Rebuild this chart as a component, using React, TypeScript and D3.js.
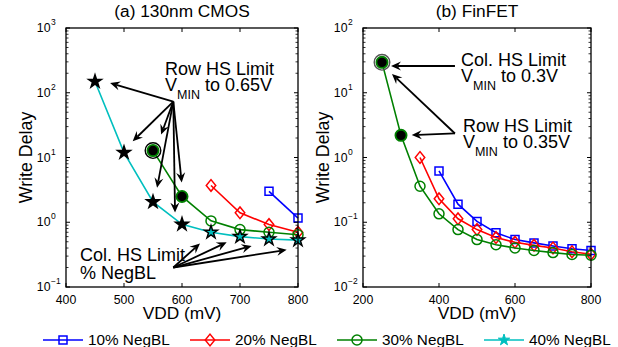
import * as d3 from "d3";

// (a) 130nm CMOS
const cmosVdd10 = [750, 800];
const cmosDelay10 = [3.0, 1.16];
const cmosVdd20 = [650, 700, 750, 800];
const cmosDelay20 = [3.7, 1.4, 0.92, 0.7];
const cmosVdd30 = [550, 600, 650, 700, 750, 800];
const cmosDelay30 = [12.8, 2.5, 1.05, 0.77, 0.7, 0.64];
const cmosVdd40 = [450, 500, 550, 600, 650, 700, 750, 800];
const cmosDelay40 = [149, 11.9, 2.06, 0.93, 0.7, 0.6, 0.55, 0.53];
const cmosRowLimited30 = [550, 600];
const cmosRinged30 = [550];
const cmosRowLimited40 = [450, 500, 550, 600];
const cmosColLimited40 = [650, 700, 750, 800];

// (b) FinFET
const finVdd10 = [400, 450, 500, 550, 600, 650, 700, 750, 800];
const finDelay10 = [0.62, 0.19, 0.103, 0.069, 0.054, 0.048, 0.043, 0.039, 0.0366];
const finVdd20 = [350, 400, 450, 500, 550, 600, 650, 700, 750, 800];
const finDelay20 = [1.0, 0.23, 0.113, 0.077, 0.058, 0.049, 0.044, 0.04, 0.035, 0.032];
const finVdd30 = [250, 300, 350, 400, 450, 500, 550, 600, 650, 700, 750, 800];
const finDelay30 = [29.5, 2.2, 0.36, 0.135, 0.077, 0.054, 0.045, 0.04, 0.0366, 0.034, 0.0317, 0.031];
const finRowLimited30 = [250, 300];
const finRinged30 = [250];

const cmosXTicks = [400, 500, 600, 700, 800];
const finXTicks = [200, 400, 600, 800];
const cmosYExp = [-1, 0, 1, 2, 3];
const finYExp = [-2, -1, 0, 1, 2];

const legendLabels = ["10% NegBL", "20% NegBL", "30% NegBL", "40% NegBL"];

// annotation arrows (data units)
const cmosRowFrom = [585, 73];
const cmosRowTipVdd = [476, 515, 564, 557, 588, 599.5];
const cmosRowTipDelay = [141, 17.8, 22.6, 3.4, 1.41, 4.1];
const cmosColFrom = [585, 0.2];
const cmosColTipVdd = [631, 677, 720, 780.5];
const cmosColTipDelay = [0.47, 0.49, 0.43, 0.375];
const finColFrom = [442, 25.9];
const finColTip = [273.7, 25.9];
const finRowFrom = [442, 2.35];
const finRowTipVdd = [276.3, 328.2];
const finRowTipDelay = [19.5, 2.22];

const FONT = "'Liberation Sans', Arial, Helvetica, sans-serif";
const BLUE = "#0000ff";
const RED = "#ff0000";
const GREEN = "#008000";
const CYAN = "#00bfbf";
const ANNOT = 18;

type Marker = "square" | "diamond" | "circle" | "star";
type Series = { vdd: number[]; delay: number[]; color: string; marker: Marker };

const MarkerShape = ({ type, color, x, y }: { type: Marker; color: string; x: number; y: number }) => {
  if (type === "circle")
    return <circle cx={x} cy={y} r={5} fill="none" stroke={color} strokeWidth={1.5} />;
  if (type === "square")
    return (
      <path
        d={d3.symbol(d3.symbolSquare, 64)() || ""}
        transform={`translate(${x},${y})`}
        fill="none"
        stroke={color}
        strokeWidth={1.5}
      />
    );
  if (type === "diamond")
    return (
      <path
        d={d3.symbol(d3.symbolSquare, 56)() || ""}
        transform={`translate(${x},${y}) scale(0.9,1.1) rotate(45)`}
        fill="none"
        stroke={color}
        strokeWidth={1.5}
      />
    );
  return (
    <path
      d={d3.symbol(d3.symbolStar, 40)() || ""}
      transform={`translate(${x},${y})`}
      fill={color}
      stroke={color}
      strokeWidth={1}
    />
  );
};

const Arrow = ({ x1, y1, x2, y2 }: { x1: number; y1: number; x2: number; y2: number }) => {
  const a = Math.atan2(y2 - y1, x2 - x1);
  const p = (dx: number, dy: number) =>
    [x2 + dx * Math.cos(a) - dy * Math.sin(a), y2 + dx * Math.sin(a) + dy * Math.cos(a)];
  const head = [p(0, 0), p(-10, 4.5), p(-6.5, 0), p(-10, -4.5)];
  const back = p(-6.5, 0);
  return (
    <g>
      <line x1={x1} y1={y1} x2={back[0]} y2={back[1]} stroke="black" strokeWidth={1.8} />
      <path d={"M" + head.map((q) => q.join(",")).join("L") + "Z"} fill="black" />
    </g>
  );
};

type PanelProps = {
  left: number;
  right: number;
  title: string;
  xDomain: [number, number];
  xTicks: number[];
  yExp: number[];
  series: Series[];
  children: (x: d3.ScaleLinear<number, number>, y: d3.ScaleLogarithmic<number, number>) => React.ReactNode;
};

const TOP = 28;
const BOTTOM = 287;

const Panel = ({ left, right, title, xDomain, xTicks, yExp, series, children }: PanelProps) => {
  const x = d3.scaleLinear().domain(xDomain).range([left, right]);
  const y = d3
    .scaleLog()
    .domain([Math.pow(10, yExp[0]), Math.pow(10, yExp[yExp.length - 1])])
    .range([BOTTOM, TOP]);
  const line = d3
    .line<[number, number]>()
    .x((d) => x(d[0]))
    .y((d) => y(d[1]));
  const minor: number[] = [];
  yExp.slice(0, -1).forEach((e) => {
    for (let k = 2; k <= 9; k++) minor.push(k * Math.pow(10, e));
  });
  const cx = (left + right) / 2;
  return (
    <g>
      <text x={cx} y={17} textAnchor="middle" fontSize={17.3}>
        {title}
      </text>
      {series.map((s, i) => (
        <g key={i}>
          <path
            d={line(s.vdd.map((v, j) => [v, s.delay[j]] as [number, number])) || ""}
            fill="none"
            stroke={s.color}
            strokeWidth={1.6}
          />
          {s.vdd.map((v, j) => (
            <MarkerShape key={j} type={s.marker} color={s.color} x={x(v)} y={y(s.delay[j])} />
          ))}
        </g>
      ))}
      {children(x, y)}
      <rect x={left} y={TOP} width={right - left} height={BOTTOM - TOP} fill="none" stroke="black" strokeWidth={1.3} />
      {xTicks.map((t) => (
        <g key={t}>
          <line x1={x(t)} x2={x(t)} y1={BOTTOM} y2={BOTTOM - 4} stroke="black" />
          <line x1={x(t)} x2={x(t)} y1={TOP} y2={TOP + 4} stroke="black" />
          <text x={x(t)} y={BOTTOM + 17} textAnchor="middle" fontSize={12.3}>
            {t}
          </text>
        </g>
      ))}
      {yExp.map((e) => {
        const py = y(Math.pow(10, e));
        return (
          <g key={e}>
            <line x1={left} x2={left + 4} y1={py} y2={py} stroke="black" />
            <line x1={right} x2={right - 4} y1={py} y2={py} stroke="black" />
            <text x={left - 15.5} y={py + 4} textAnchor="end" fontSize={12.3}>
              10
            </text>
            <text x={left - 15} y={py - 3} textAnchor="start" fontSize={8.5}>
              {e < 0 ? "\u2212" + -e : e}
            </text>
          </g>
        );
      })}
      {minor.map((m) => (
        <g key={m}>
          <line x1={left} x2={left + 2.5} y1={y(m)} y2={y(m)} stroke="black" strokeWidth={0.8} />
          <line x1={right} x2={right - 2.5} y1={y(m)} y2={y(m)} stroke="black" strokeWidth={0.8} />
        </g>
      ))}
      <text x={cx} y={319} textAnchor="middle" fontSize={17.3}>
        VDD (mV)
      </text>
      <text
        transform={`translate(${left - 34},${(TOP + BOTTOM) / 2}) rotate(-90)`}
        textAnchor="middle"
        fontSize={17.8}
      >
        Write Delay
      </text>
    </g>
  );
};

const VminLine = ({ x, y, rest }: { x: number; y: number; rest: string }) => (
  <text x={x} y={y} fontSize={ANNOT}>
    V
    <tspan dy={8} fontSize={12.5}>
      MIN
    </tspan>
    <tspan dy={-8}>{rest}</tspan>
  </text>
);

const App = () => {
  const cmosSeries: Series[] = [
    { vdd: cmosVdd10, delay: cmosDelay10, color: BLUE, marker: "square" },
    { vdd: cmosVdd20, delay: cmosDelay20, color: RED, marker: "diamond" },
    { vdd: cmosVdd30, delay: cmosDelay30, color: GREEN, marker: "circle" },
    { vdd: cmosVdd40, delay: cmosDelay40, color: CYAN, marker: "star" },
  ];
  const finSeries: Series[] = [
    { vdd: finVdd10, delay: finDelay10, color: BLUE, marker: "square" },
    { vdd: finVdd20, delay: finDelay20, color: RED, marker: "diamond" },
    { vdd: finVdd30, delay: finDelay30, color: GREEN, marker: "circle" },
  ];
  const legendColors = [BLUE, RED, GREEN, CYAN];
  const legendMarkers: Marker[] = ["square", "diamond", "circle", "star"];
  const legendX = d3.scaleBand<number>().domain([0, 1, 2, 3]).range([43, 631]);
  const bigStar = d3.symbol(d3.symbolStar, 95)() || "";
  const smallStar = d3.symbol(d3.symbolStar, 22)() || "";

  const blackDot = (px: number, py: number, ringed: boolean, ringColor: string, key: number) => (
    <g key={key}>
      {ringed && <circle cx={px} cy={py} r={7.8} fill="none" stroke={ringColor} strokeWidth={1.4} />}
      <circle cx={px} cy={py} r={5.6} fill="black" stroke={GREEN} strokeWidth={1.8} />
    </g>
  );

  return (
    <svg
      width={618}
      height={347}
      style={{ position: "absolute", left: 0, top: 0, background: "white" }}
      fontFamily={FONT}
    >
      <Panel
        left={66}
        right={298}
        title="(a) 130nm CMOS"
        xDomain={[400, 800]}
        xTicks={cmosXTicks}
        yExp={cmosYExp}
        series={cmosSeries}
      >
        {(x, y) => (
          <g>
            {cmosRowLimited30.map((v, i) =>
              blackDot(x(v), y(cmosDelay30[cmosVdd30.indexOf(v)]), cmosRinged30.includes(v), "black", i)
            )}
            {cmosRowLimited40.map((v) => (
              <path key={v} d={bigStar} transform={`translate(${x(v)},${y(cmosDelay40[cmosVdd40.indexOf(v)])})`} fill="black" />
            ))}
            {cmosColLimited40.map((v) => {
              const t = `translate(${x(v)},${y(cmosDelay40[cmosVdd40.indexOf(v)])})`;
              return (
                <g key={v}>
                  <path d={bigStar} transform={t} fill="black" />
                  <path d={smallStar} transform={t} fill={CYAN} />
                </g>
              );
            })}
            {cmosRowTipVdd.map((v, i) => (
              <Arrow key={i} x1={x(cmosRowFrom[0])} y1={y(cmosRowFrom[1])} x2={x(v)} y2={y(cmosRowTipDelay[i])} />
            ))}
            {cmosColTipVdd.map((v, i) => (
              <Arrow key={i} x1={x(cmosColFrom[0])} y1={y(cmosColFrom[1])} x2={x(v)} y2={y(cmosColTipDelay[i])} />
            ))}
            <text x={x(570.7)} y={y(185)} fontSize={ANNOT}>
              Row HS Limit
            </text>
            <VminLine x={x(570.7)} y={y(185) + 15.5} rest=" to 0.65V" />
            <text x={x(424)} y={y(0.252)} fontSize={ANNOT}>
              Col. HS Limit
            </text>
            <text x={x(424)} y={y(0.252) + 18} fontSize={ANNOT}>
              % NegBL
            </text>
          </g>
        )}
      </Panel>
      <Panel
        left={363}
        right={591}
        title="(b) FinFET"
        xDomain={[200, 800]}
        xTicks={finXTicks}
        yExp={finYExp}
        series={finSeries}
      >
        {(x, y) => (
          <g>
            {finRowLimited30.map((v, i) =>
              blackDot(x(v), y(finDelay30[finVdd30.indexOf(v)]), finRinged30.includes(v), "#555", i)
            )}
            <Arrow x1={x(finColFrom[0])} y1={y(finColFrom[1])} x2={x(finColTip[0])} y2={y(finColTip[1])} />
            {finRowTipVdd.map((v, i) => (
              <Arrow key={i} x1={x(finRowFrom[0])} y1={y(finRowFrom[1])} x2={x(v)} y2={y(finRowTipDelay[i])} />
            ))}
            <text x={x(458)} y={y(25.8)} fontSize={ANNOT}>
              Col. HS Limit
            </text>
            <VminLine x={x(458)} y={y(25.8) + 16} rest=" to 0.3V" />
            <text x={x(463)} y={y(2.48)} fontSize={ANNOT}>
              Row HS Limit
            </text>
            <VminLine x={x(463)} y={y(2.48) + 16} rest=" to 0.35V" />
          </g>
        )}
      </Panel>
      {legendLabels.map((lab, i) => {
        const lx = legendX(i) || 0;
        return (
          <g key={lab}>
            <line x1={lx} x2={lx + 40} y1={340} y2={340} stroke={legendColors[i]} strokeWidth={1.6} />
            <MarkerShape type={legendMarkers[i]} color={legendColors[i]} x={lx + 20} y={340} />
            <text x={lx + 45} y={344.5} fontSize={15.3}>
              {lab}
            </text>
          </g>
        );
      })}
    </svg>
  );
};

export default App;
